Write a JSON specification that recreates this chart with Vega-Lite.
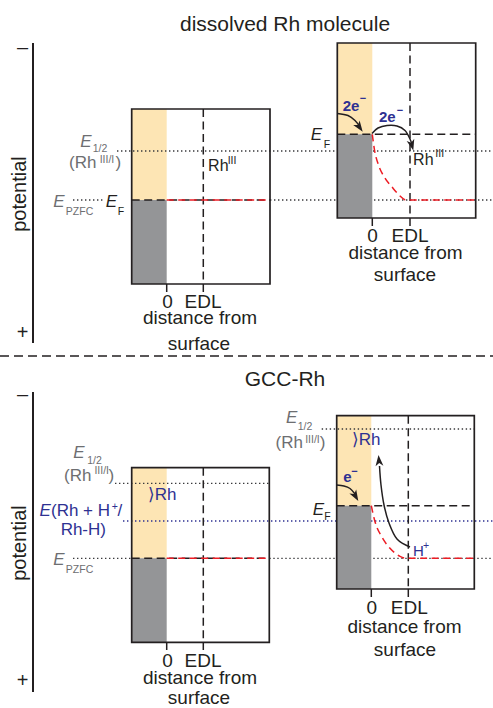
{
  "$schema": "https://vega.github.io/schema/vega-lite/v6.json",
  "width": 493,
  "height": 708,
  "padding": 0,
  "autosize": {"type": "none"},
  "background": "white",
  "config": {"view": {"stroke": null}, "text": {"font": "Liberation Sans"}},
  "datasets": {
    "fills": [
      {"x": 131.7, "x2": 166.7, "y": 109, "y2": 200, "kind": "band"},
      {"x": 131.7, "x2": 166.7, "y": 200, "y2": 284, "kind": "metal"},
      {"x": 337.3, "x2": 372.3, "y": 43, "y2": 134.3, "kind": "band"},
      {"x": 337.3, "x2": 372.3, "y": 134.3, "y2": 218, "kind": "metal"},
      {"x": 131.7, "x2": 166.7, "y": 467.7, "y2": 558.3, "kind": "band"},
      {"x": 131.7, "x2": 166.7, "y": 558.3, "y2": 642.3, "kind": "metal"},
      {"x": 336.7, "x2": 371.3, "y": 415.7, "y2": 505.7, "kind": "band"},
      {"x": 336.7, "x2": 371.3, "y": 505.7, "y2": 589, "kind": "metal"}
    ],
    "boxes": [
      {"x": 131.7, "x2": 270, "y": 109, "y2": 284},
      {"x": 337.3, "x2": 475.7, "y": 43, "y2": 218},
      {"x": 131.7, "x2": 269.3, "y": 467.7, "y2": 642.3},
      {"x": 336.7, "x2": 474.3, "y": 415.7, "y2": 589}
    ],
    "dots": [
      {"x": 117, "x2": 493, "y": 151, "y2": 151},
      {"x": 73, "x2": 103, "y": 200, "y2": 200},
      {"x": 270, "x2": 493, "y": 200, "y2": 200},
      {"x": 115, "x2": 269.3, "y": 483.3, "y2": 483.3},
      {"x": 321.7, "x2": 474.3, "y": 429, "y2": 429},
      {"x": 73, "x2": 131.7, "y": 558.3, "y2": 558.3},
      {"x": 269.3, "x2": 493, "y": 558.3, "y2": 558.3}
    ],
    "bluedots": [
      {"x": 123, "x2": 493, "y": 521, "y2": 521}
    ],
    "dashes": [
      {"x": 203.3, "x2": 203.3, "y": 109, "y2": 284},
      {"x": 410, "x2": 410, "y": 43, "y2": 218},
      {"x": 203.3, "x2": 203.3, "y": 467.7, "y2": 642.3},
      {"x": 408.3, "x2": 408.3, "y": 415.7, "y2": 589},
      {"x": 131.7, "x2": 270, "y": 200, "y2": 200},
      {"x": 337.3, "x2": 475.7, "y": 134.3, "y2": 134.3},
      {"x": 131.7, "x2": 269.3, "y": 558.3, "y2": 558.3},
      {"x": 336.7, "x2": 474.3, "y": 505.7, "y2": 505.7}
    ],
    "sep": [
      {"x": 0, "x2": 493, "y": 356, "y2": 356}
    ],
    "solid": [
      {"x": 166.7, "x2": 166.7, "y": 284, "y2": 292},
      {"x": 203.3, "x2": 203.3, "y": 284, "y2": 292},
      {"x": 372.3, "x2": 372.3, "y": 218, "y2": 226},
      {"x": 410, "x2": 410, "y": 218, "y2": 226},
      {"x": 166.7, "x2": 166.7, "y": 642.3, "y2": 650},
      {"x": 203.3, "x2": 203.3, "y": 642.3, "y2": 650},
      {"x": 371.3, "x2": 371.3, "y": 589, "y2": 597},
      {"x": 408.3, "x2": 408.3, "y": 589, "y2": 597}
    ],
    "axes": [
      {"x": 33, "x2": 33, "y": 43, "y2": 343},
      {"x": 33, "x2": 33, "y": 392, "y2": 692}
    ],
    "reds": [
      {"id": "r1", "i": 0, "x": 166.7, "y": 200},
      {"id": "r1", "i": 1, "x": 270, "y": 200},
      {"id": "r2", "i": 0, "x": 166.7, "y": 558.3},
      {"id": "r2", "i": 1, "x": 269.3, "y": 558.3},
      {"id": "r3", "i": 0, "x": 372.3, "y": 134.3},
      {"id": "r3", "i": 1, "x": 374.5, "y": 150},
      {"id": "r3", "i": 2, "x": 378.5, "y": 165},
      {"id": "r3", "i": 3, "x": 385, "y": 178},
      {"id": "r3", "i": 4, "x": 392, "y": 187},
      {"id": "r3", "i": 5, "x": 399, "y": 195},
      {"id": "r3", "i": 6, "x": 406, "y": 200},
      {"id": "r3", "i": 7, "x": 475.7, "y": 200},
      {"id": "r4", "i": 0, "x": 371.3, "y": 505.7},
      {"id": "r4", "i": 1, "x": 375, "y": 521.7},
      {"id": "r4", "i": 2, "x": 381.7, "y": 536.7},
      {"id": "r4", "i": 3, "x": 390, "y": 548.3},
      {"id": "r4", "i": 4, "x": 400, "y": 556.3},
      {"id": "r4", "i": 5, "x": 407, "y": 558.3},
      {"id": "r4", "i": 6, "x": 474.3, "y": 558.3}
    ],
    "arrows": [
      {"id": "a1", "i": 0, "x": 337.3, "y": 113.5},
      {"id": "a1", "i": 1, "x": 348, "y": 115.5},
      {"id": "a1", "i": 2, "x": 355, "y": 120.5},
      {"id": "a1", "i": 3, "x": 360, "y": 127},
      {"id": "a2", "i": 0, "x": 372, "y": 133.5},
      {"id": "a2", "i": 1, "x": 378, "y": 128},
      {"id": "a2", "i": 2, "x": 387, "y": 125.5},
      {"id": "a2", "i": 3, "x": 397, "y": 126},
      {"id": "a2", "i": 4, "x": 405, "y": 130.5},
      {"id": "a2", "i": 5, "x": 410, "y": 139},
      {"id": "a2", "i": 6, "x": 412, "y": 145},
      {"id": "a3", "i": 0, "x": 336.7, "y": 485},
      {"id": "a3", "i": 1, "x": 344, "y": 486},
      {"id": "a3", "i": 2, "x": 350, "y": 488.5},
      {"id": "a3", "i": 3, "x": 355, "y": 494},
      {"id": "a4", "i": 0, "x": 410, "y": 547},
      {"id": "a4", "i": 1, "x": 397, "y": 539},
      {"id": "a4", "i": 2, "x": 389, "y": 523},
      {"id": "a4", "i": 3, "x": 384, "y": 505},
      {"id": "a4", "i": 4, "x": 381, "y": 485},
      {"id": "a4", "i": 5, "x": 379.5, "y": 466}
    ],
    "heads": [
      {"x": 362.7, "y": 131.7, "angle": 145},
      {"x": 413.3, "y": 150.5, "angle": 165},
      {"x": 358.3, "y": 501, "angle": 150},
      {"x": 378.5, "y": 455, "angle": 355}
    ],
    "texts": [
      {"x": 285, "y": 25, "t": "dissolved Rh molecule", "tone": "k", "lvl": "title", "st": "n"},
      {"x": 285, "y": 380, "t": "GCC-Rh", "tone": "k", "lvl": "title", "st": "n"},
      {"x": 22.5, "y": 48, "t": "–", "tone": "k", "lvl": "axis", "st": "n"},
      {"x": 22.5, "y": 333, "t": "+", "tone": "k", "lvl": "axis", "st": "n"},
      {"x": 22.5, "y": 395, "t": "–", "tone": "k", "lvl": "axis", "st": "n"},
      {"x": 22.5, "y": 681, "t": "+", "tone": "k", "lvl": "axis", "st": "n"},
      {"x": 20, "y": 194, "t": "potential", "tone": "k", "lvl": "axis", "st": "r"},
      {"x": 20, "y": 543, "t": "potential", "tone": "k", "lvl": "axis", "st": "r"},
      {"x": 167.5, "y": 301.6, "t": "0", "tone": "k", "lvl": "label", "st": "n"},
      {"x": 203, "y": 301.6, "t": "EDL", "tone": "k", "lvl": "label", "st": "n"},
      {"x": 200, "y": 318.3, "t": "distance from", "tone": "k", "lvl": "label", "st": "n"},
      {"x": 199, "y": 344, "t": "surface", "tone": "k", "lvl": "label", "st": "n"},
      {"x": 372.5, "y": 236, "t": "0", "tone": "k", "lvl": "label", "st": "n"},
      {"x": 410, "y": 236, "t": "EDL", "tone": "k", "lvl": "label", "st": "n"},
      {"x": 405.5, "y": 253, "t": "distance from", "tone": "k", "lvl": "label", "st": "n"},
      {"x": 405, "y": 275, "t": "surface", "tone": "k", "lvl": "label", "st": "n"},
      {"x": 167.5, "y": 661, "t": "0", "tone": "k", "lvl": "label", "st": "n"},
      {"x": 203, "y": 661, "t": "EDL", "tone": "k", "lvl": "label", "st": "n"},
      {"x": 200, "y": 678, "t": "distance from", "tone": "k", "lvl": "label", "st": "n"},
      {"x": 199, "y": 698, "t": "surface", "tone": "k", "lvl": "label", "st": "n"},
      {"x": 371.7, "y": 607.5, "t": "0", "tone": "k", "lvl": "label", "st": "n"},
      {"x": 409.3, "y": 607.5, "t": "EDL", "tone": "k", "lvl": "label", "st": "n"},
      {"x": 404.5, "y": 627, "t": "distance from", "tone": "k", "lvl": "label", "st": "n"},
      {"x": 405, "y": 649.5, "t": "surface", "tone": "k", "lvl": "label", "st": "n"},
      {"x": 86, "y": 141.6, "t": "E", "tone": "g", "lvl": "main", "st": "i"},
      {"x": 100, "y": 148.7, "t": "1/2", "tone": "g", "lvl": "sub", "st": "n"},
      {"x": 82.8, "y": 163, "t": "(Rh", "tone": "g", "lvl": "main", "st": "n"},
      {"x": 107, "y": 160.3, "t": "III/I", "tone": "g", "lvl": "sub", "st": "n"},
      {"x": 118.3, "y": 163, "t": ")", "tone": "g", "lvl": "main", "st": "n"},
      {"x": 59, "y": 201.9, "t": "E", "tone": "g", "lvl": "main", "st": "i"},
      {"x": 79.5, "y": 212, "t": "PZFC", "tone": "g", "lvl": "sub", "st": "n"},
      {"x": 111.5, "y": 201.9, "t": "E", "tone": "k", "lvl": "main", "st": "i"},
      {"x": 121, "y": 212, "t": "F", "tone": "k", "lvl": "sub", "st": "n"},
      {"x": 218.3, "y": 165.9, "t": "Rh", "tone": "k", "lvl": "rh", "st": "n"},
      {"x": 232, "y": 160.6, "t": "III", "tone": "k", "lvl": "sub", "st": "n"},
      {"x": 316.5, "y": 134.9, "t": "E", "tone": "k", "lvl": "main", "st": "i"},
      {"x": 327, "y": 145, "t": "F", "tone": "k", "lvl": "sub", "st": "n"},
      {"x": 351, "y": 105.5, "t": "2e", "tone": "b", "lvl": "small", "st": "b"},
      {"x": 363, "y": 99, "t": "−", "tone": "b", "lvl": "sub", "st": "b"},
      {"x": 387.3, "y": 117.2, "t": "2e", "tone": "b", "lvl": "small", "st": "b"},
      {"x": 400, "y": 111, "t": "−", "tone": "b", "lvl": "sub", "st": "b"},
      {"x": 423.3, "y": 160.2, "t": "Rh", "tone": "k", "lvl": "rh", "st": "n"},
      {"x": 439.7, "y": 154, "t": "III", "tone": "k", "lvl": "sub", "st": "n"},
      {"x": 79, "y": 453.2, "t": "E", "tone": "g", "lvl": "main", "st": "i"},
      {"x": 94.5, "y": 461.3, "t": "1/2", "tone": "g", "lvl": "sub", "st": "n"},
      {"x": 77.8, "y": 476, "t": "(Rh", "tone": "g", "lvl": "main", "st": "n"},
      {"x": 101.7, "y": 470.6, "t": "III/I", "tone": "g", "lvl": "sub", "st": "n"},
      {"x": 111.3, "y": 476, "t": ")", "tone": "g", "lvl": "main", "st": "n"},
      {"x": 39.5, "y": 511.3, "t": "E", "tone": "b", "lvl": "main", "st": "li"},
      {"x": 51, "y": 511.3, "t": "(Rh + H", "tone": "b", "lvl": "main", "st": "l"},
      {"x": 111.7, "y": 507, "t": "+", "tone": "b", "lvl": "sub", "st": "l"},
      {"x": 117.5, "y": 511.3, "t": "/", "tone": "b", "lvl": "main", "st": "l"},
      {"x": 83.3, "y": 530, "t": "Rh-H)", "tone": "b", "lvl": "main", "st": "n"},
      {"x": 59, "y": 559.9, "t": "E", "tone": "g", "lvl": "main", "st": "i"},
      {"x": 79.5, "y": 570.3, "t": "PZFC", "tone": "g", "lvl": "sub", "st": "n"},
      {"x": 162, "y": 494.6, "t": "⟩Rh", "tone": "b", "lvl": "main", "st": "n"},
      {"x": 291.7, "y": 418.2, "t": "E", "tone": "g", "lvl": "main", "st": "i"},
      {"x": 305, "y": 427, "t": "1/2", "tone": "g", "lvl": "sub", "st": "n"},
      {"x": 289.2, "y": 443, "t": "(Rh", "tone": "g", "lvl": "main", "st": "n"},
      {"x": 312.5, "y": 440.3, "t": "III/I", "tone": "g", "lvl": "sub", "st": "n"},
      {"x": 322.5, "y": 443, "t": ")", "tone": "g", "lvl": "main", "st": "n"},
      {"x": 366, "y": 439.6, "t": "⟩Rh", "tone": "b", "lvl": "main", "st": "n"},
      {"x": 347.5, "y": 477.2, "t": "e", "tone": "b", "lvl": "small", "st": "b"},
      {"x": 354.5, "y": 471.7, "t": "−", "tone": "b", "lvl": "sub", "st": "b"},
      {"x": 318.3, "y": 509.9, "t": "E", "tone": "k", "lvl": "main", "st": "i"},
      {"x": 327.5, "y": 517, "t": "F", "tone": "k", "lvl": "sub", "st": "n"},
      {"x": 418.3, "y": 550.5, "t": "H", "tone": "b", "lvl": "small", "st": "n"},
      {"x": 426, "y": 546, "t": "+", "tone": "b", "lvl": "sub", "st": "n"}
    ]
  },
  "encoding": {
    "x": {"field": "x", "type": "quantitative", "scale": {"domain": [0, 493], "nice": false, "zero": false}, "axis": null},
    "y": {"field": "y", "type": "quantitative", "scale": {"domain": [0, 708], "reverse": true, "nice": false, "zero": false}, "axis": null}
  },
  "layer": [
    {
      "data": {"name": "fills"},
      "transform": [{"filter": "datum.kind == 'band'"}],
      "mark": {"type": "rect", "fill": "#fde5b4", "stroke": null},
      "encoding": {"x2": {"field": "x2"}, "y2": {"field": "y2"}}
    },
    {
      "data": {"name": "dots"},
      "mark": {"type": "rule", "color": "#3a3a3c", "strokeWidth": 1.3, "strokeDash": [1.4, 2.6]},
      "encoding": {"x2": {"field": "x2"}, "y2": {"field": "y2"}}
    },
    {
      "data": {"name": "bluedots"},
      "mark": {"type": "rule", "color": "#2e3192", "strokeWidth": 1.4, "strokeDash": [1.4, 2.6]},
      "encoding": {"x2": {"field": "x2"}, "y2": {"field": "y2"}}
    },
    {
      "data": {"name": "fills"},
      "transform": [{"filter": "datum.kind == 'metal'"}],
      "mark": {"type": "rect", "fill": "#949597", "stroke": null},
      "encoding": {"x2": {"field": "x2"}, "y2": {"field": "y2"}}
    },
    {
      "data": {"name": "dashes"},
      "mark": {"type": "rule", "color": "#231f20", "strokeWidth": 1.5, "strokeDash": [8, 4.5]},
      "encoding": {"x2": {"field": "x2"}, "y2": {"field": "y2"}}
    },
    {
      "data": {"name": "sep"},
      "mark": {"type": "rule", "color": "#231f20", "strokeWidth": 1.4, "strokeDash": [9, 5]},
      "encoding": {"x2": {"field": "x2"}, "y2": {"field": "y2"}}
    },
    {
      "data": {"name": "reds"},
      "mark": {"type": "line", "color": "#ed1c24", "strokeWidth": 1.5, "strokeDash": [7, 4.5], "interpolate": "monotone"},
      "encoding": {"detail": {"field": "id"}, "order": {"field": "i"}}
    },
    {
      "data": {"name": "boxes"},
      "mark": {"type": "rect", "fill": null, "fillOpacity": 0, "stroke": "#231f20", "strokeWidth": 1.7},
      "encoding": {"x2": {"field": "x2"}, "y2": {"field": "y2"}}
    },
    {
      "data": {"name": "solid"},
      "mark": {"type": "rule", "color": "#231f20", "strokeWidth": 1.5},
      "encoding": {"x2": {"field": "x2"}, "y2": {"field": "y2"}}
    },
    {
      "data": {"name": "axes"},
      "mark": {"type": "rule", "color": "#231f20", "strokeWidth": 2},
      "encoding": {"x2": {"field": "x2"}, "y2": {"field": "y2"}}
    },
    {
      "data": {"name": "arrows"},
      "mark": {"type": "line", "color": "#231f20", "strokeWidth": 1.5, "interpolate": "cardinal"},
      "encoding": {"detail": {"field": "id"}, "order": {"field": "i"}}
    },
    {
      "data": {"name": "heads"},
      "mark": {"type": "point", "shape": "M0,0L0.75,2.1L0,1.55L-0.75,2.1Z", "filled": true, "color": "#231f20", "opacity": 1, "size": 110, "strokeWidth": 0},
      "encoding": {"angle": {"field": "angle", "type": "quantitative", "scale": null}}
    },
    {
      "data": {"name": "texts"},
      "transform": [{"filter": "datum.st == 'n' && datum.lvl == 'title'"}],
      "mark": {"type": "text", "align": "center", "baseline": "middle", "font": "Liberation Sans", "fontSize": 21},
      "encoding": {"text": {"field": "t"}, "color": {"field": "tone", "type": "nominal", "scale": {"domain": ["k", "g", "b"], "range": ["#231f20", "#6d6e71", "#2e3192"]}, "legend": null}}
    },
    {
      "data": {"name": "texts"},
      "transform": [{"filter": "datum.st == 'n' && datum.lvl == 'axis'"}],
      "mark": {"type": "text", "align": "center", "baseline": "middle", "font": "Liberation Sans", "fontSize": 20},
      "encoding": {"text": {"field": "t"}, "color": {"field": "tone", "type": "nominal", "scale": {"domain": ["k", "g", "b"], "range": ["#231f20", "#6d6e71", "#2e3192"]}, "legend": null}}
    },
    {
      "data": {"name": "texts"},
      "transform": [{"filter": "datum.st == 'n' && datum.lvl == 'label'"}],
      "mark": {"type": "text", "align": "center", "baseline": "middle", "font": "Liberation Sans", "fontSize": 19},
      "encoding": {"text": {"field": "t"}, "color": {"field": "tone", "type": "nominal", "scale": {"domain": ["k", "g", "b"], "range": ["#231f20", "#6d6e71", "#2e3192"]}, "legend": null}}
    },
    {
      "data": {"name": "texts"},
      "transform": [{"filter": "datum.st == 'n' && datum.lvl == 'main'"}],
      "mark": {"type": "text", "align": "center", "baseline": "middle", "font": "Liberation Sans", "fontSize": 17},
      "encoding": {"text": {"field": "t"}, "color": {"field": "tone", "type": "nominal", "scale": {"domain": ["k", "g", "b"], "range": ["#231f20", "#6d6e71", "#2e3192"]}, "legend": null}}
    },
    {
      "data": {"name": "texts"},
      "transform": [{"filter": "datum.st == 'n' && datum.lvl == 'rh'"}],
      "mark": {"type": "text", "align": "center", "baseline": "middle", "font": "Liberation Sans", "fontSize": 16},
      "encoding": {"text": {"field": "t"}, "color": {"field": "tone", "type": "nominal", "scale": {"domain": ["k", "g", "b"], "range": ["#231f20", "#6d6e71", "#2e3192"]}, "legend": null}}
    },
    {
      "data": {"name": "texts"},
      "transform": [{"filter": "datum.st == 'n' && datum.lvl == 'small'"}],
      "mark": {"type": "text", "align": "center", "baseline": "middle", "font": "Liberation Sans", "fontSize": 15},
      "encoding": {"text": {"field": "t"}, "color": {"field": "tone", "type": "nominal", "scale": {"domain": ["k", "g", "b"], "range": ["#231f20", "#6d6e71", "#2e3192"]}, "legend": null}}
    },
    {
      "data": {"name": "texts"},
      "transform": [{"filter": "datum.st == 'n' && datum.lvl == 'sub'"}],
      "mark": {"type": "text", "align": "center", "baseline": "middle", "font": "Liberation Sans", "fontSize": 10.5},
      "encoding": {"text": {"field": "t"}, "color": {"field": "tone", "type": "nominal", "scale": {"domain": ["k", "g", "b"], "range": ["#231f20", "#6d6e71", "#2e3192"]}, "legend": null}}
    },
    {
      "data": {"name": "texts"},
      "transform": [{"filter": "datum.st == 'i'"}],
      "mark": {"type": "text", "align": "center", "baseline": "middle", "font": "Liberation Sans", "fontSize": 17, "fontStyle": "italic"},
      "encoding": {"text": {"field": "t"}, "color": {"field": "tone", "type": "nominal", "scale": {"domain": ["k", "g", "b"], "range": ["#231f20", "#6d6e71", "#2e3192"]}, "legend": null}}
    },
    {
      "data": {"name": "texts"},
      "transform": [{"filter": "datum.st == 'b' && datum.lvl == 'small'"}],
      "mark": {"type": "text", "align": "center", "baseline": "middle", "font": "Liberation Sans", "fontSize": 15, "fontWeight": "bold"},
      "encoding": {"text": {"field": "t"}, "color": {"field": "tone", "type": "nominal", "scale": {"domain": ["k", "g", "b"], "range": ["#231f20", "#6d6e71", "#2e3192"]}, "legend": null}}
    },
    {
      "data": {"name": "texts"},
      "transform": [{"filter": "datum.st == 'b' && datum.lvl == 'sub'"}],
      "mark": {"type": "text", "align": "center", "baseline": "middle", "font": "Liberation Sans", "fontSize": 11, "fontWeight": "bold"},
      "encoding": {"text": {"field": "t"}, "color": {"field": "tone", "type": "nominal", "scale": {"domain": ["k", "g", "b"], "range": ["#231f20", "#6d6e71", "#2e3192"]}, "legend": null}}
    },
    {
      "data": {"name": "texts"},
      "transform": [{"filter": "datum.st == 'l' && datum.lvl == 'main'"}],
      "mark": {"type": "text", "align": "left", "baseline": "middle", "font": "Liberation Sans", "fontSize": 17},
      "encoding": {"text": {"field": "t"}, "color": {"field": "tone", "type": "nominal", "scale": {"domain": ["k", "g", "b"], "range": ["#231f20", "#6d6e71", "#2e3192"]}, "legend": null}}
    },
    {
      "data": {"name": "texts"},
      "transform": [{"filter": "datum.st == 'l' && datum.lvl == 'sub'"}],
      "mark": {"type": "text", "align": "left", "baseline": "middle", "font": "Liberation Sans", "fontSize": 10.5},
      "encoding": {"text": {"field": "t"}, "color": {"field": "tone", "type": "nominal", "scale": {"domain": ["k", "g", "b"], "range": ["#231f20", "#6d6e71", "#2e3192"]}, "legend": null}}
    },
    {
      "data": {"name": "texts"},
      "transform": [{"filter": "datum.st == 'li'"}],
      "mark": {"type": "text", "align": "left", "baseline": "middle", "font": "Liberation Sans", "fontSize": 17, "fontStyle": "italic"},
      "encoding": {"text": {"field": "t"}, "color": {"field": "tone", "type": "nominal", "scale": {"domain": ["k", "g", "b"], "range": ["#231f20", "#6d6e71", "#2e3192"]}, "legend": null}}
    },
    {
      "data": {"name": "texts"},
      "transform": [{"filter": "datum.st == 'r'"}],
      "mark": {"type": "text", "align": "center", "baseline": "middle", "font": "Liberation Sans", "fontSize": 20, "angle": 270},
      "encoding": {"text": {"field": "t"}, "color": {"field": "tone", "type": "nominal", "scale": {"domain": ["k", "g", "b"], "range": ["#231f20", "#6d6e71", "#2e3192"]}, "legend": null}}
    }
  ]
}
